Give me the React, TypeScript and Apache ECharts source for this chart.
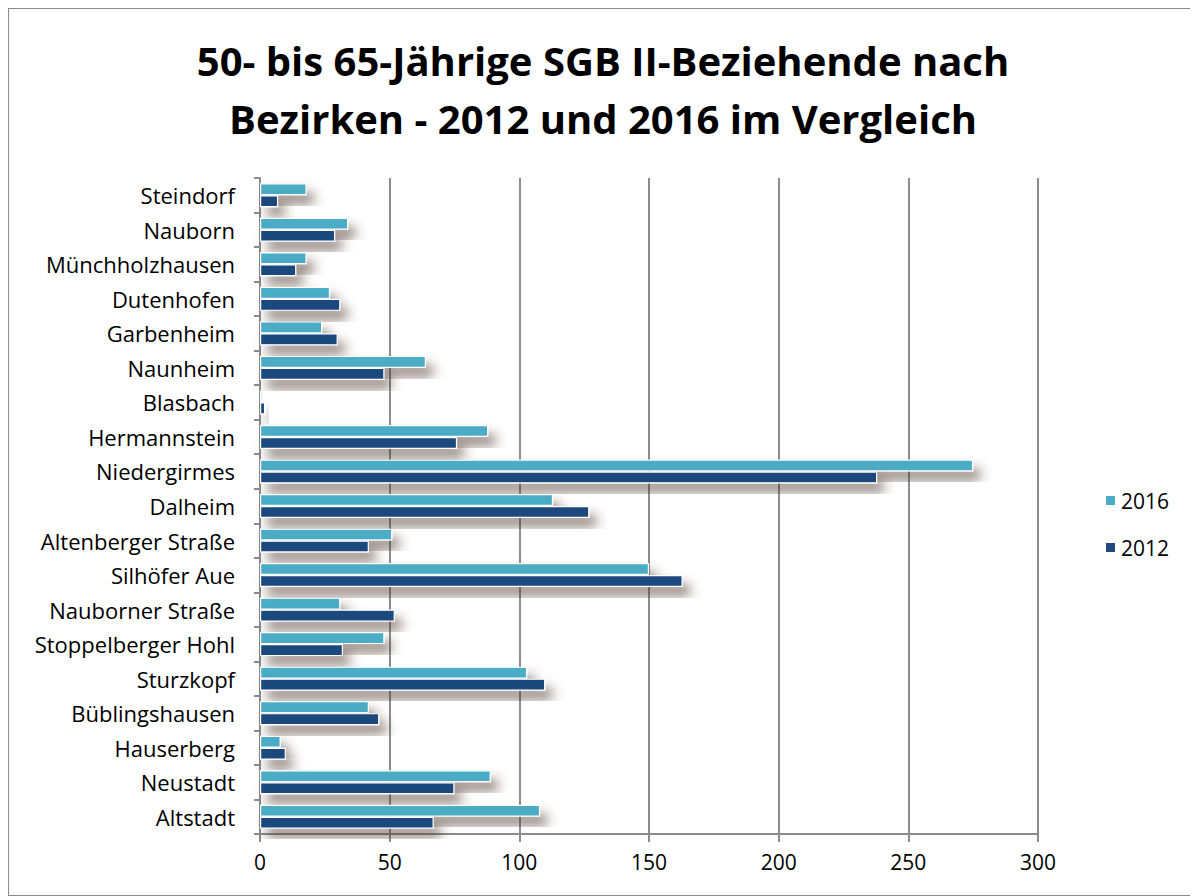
import React, { useEffect, useRef } from "react";
import * as echarts from "echarts";

const categories = [
  "Steindorf", "Nauborn", "Münchholzhausen", "Dutenhofen", "Garbenheim",
  "Naunheim", "Blasbach", "Hermannstein", "Niedergirmes", "Dalheim",
  "Altenberger Straße", "Silhöfer Aue", "Nauborner Straße", "Stoppelberger Hohl",
  "Sturzkopf", "Büblingshausen", "Hauserberg", "Neustadt", "Altstadt",
];
const values2016 = [18, 34, 18, 27, 24, 64, 1, 88, 275, 113, 51, 150, 31, 48, 103, 42, 8, 89, 108];
const values2012 = [7, 29, 14, 31, 30, 48, 2, 76, 238, 127, 42, 163, 52, 32, 110, 46, 10, 75, 67];
const xTicks = { min: 0, max: 300, interval: 50 };

const FONT = "'Open Sans', 'Liberation Sans', sans-serif";

export default function App() {
  const ref = useRef<HTMLDivElement>(null);
  useEffect(() => {
    if (!ref.current) return;
    const chart = echarts.init(ref.current, null, { renderer: "svg" });
    const barStyle = (color: string) => ({
      color,
      borderColor: "#ffffff",
      borderWidth: 1.2,
      shadowBlur: 12,
      shadowColor: "rgba(70,50,40,0.6)",
      shadowOffsetX: 7,
      shadowOffsetY: 9,
    });
    chart.setOption({
      animation: false,
      backgroundColor: "#ffffff",
      title: {
        text: "50- bis 65-Jährige SGB II-Beziehende nach\nBezirken - 2012 und 2016 im Vergleich",
        left: "center",
        top: 17,
        textStyle: {
          fontFamily: FONT,
          fontWeight: "bold",
          fontSize: 40,
          lineHeight: 58,
          color: "#000000",
        },
      },
      legend: {
        orient: "vertical",
        left: 1090,
        top: 476,
        itemWidth: 11,
        itemHeight: 11,
        itemGap: 26,
        icon: "rect",
        data: ["2016", "2012"],
        textStyle: { fontFamily: FONT, fontSize: 21, color: "#000000" },
      },
      grid: { left: 251, right: 159, top: 169, bottom: 61, containLabel: false },
      xAxis: {
        type: "value",
        min: xTicks.min,
        max: xTicks.max,
        interval: xTicks.interval,
        axisLine: { show: true, lineStyle: { color: "#8c8c8c", width: 2 } },
        axisTick: { show: true, length: 8, lineStyle: { color: "#8c8c8c", width: 2 } },
        axisLabel: { fontFamily: FONT, fontSize: 21, color: "#000000", margin: 17 },
        splitLine: { show: true, lineStyle: { color: "#8c8c8c", width: 2 } },
      },
      yAxis: {
        type: "category",
        inverse: true,
        data: categories,
        axisLine: { show: true, lineStyle: { color: "#8c8c8c", width: 2 } },
        axisTick: { show: true, length: 6, lineStyle: { color: "#8c8c8c", width: 2 } },
        axisLabel: { fontFamily: FONT, fontSize: 22, color: "#000000", margin: 25 },
        splitLine: { show: false },
      },
      series: [
        {
          name: "2016",
          type: "bar",
          data: values2016,
          barWidth: 12,
          barGap: "0%",
          itemStyle: barStyle("#4BACC6"),
        },
        {
          name: "2012",
          type: "bar",
          data: values2012,
          barWidth: 12,
          barGap: "0%",
          itemStyle: barStyle("#1F497D"),
        },
      ],
    });
    return () => chart.dispose();
  }, []);
  return (
    <div
      style={{
        width: 1190,
        height: 888,
        border: "1px solid #8c8c8c",
        boxSizing: "border-box",
        background: "#fff",
      }}
    >
      <div ref={ref} style={{ width: 1188, height: 886 }} />
    </div>
  );
}
